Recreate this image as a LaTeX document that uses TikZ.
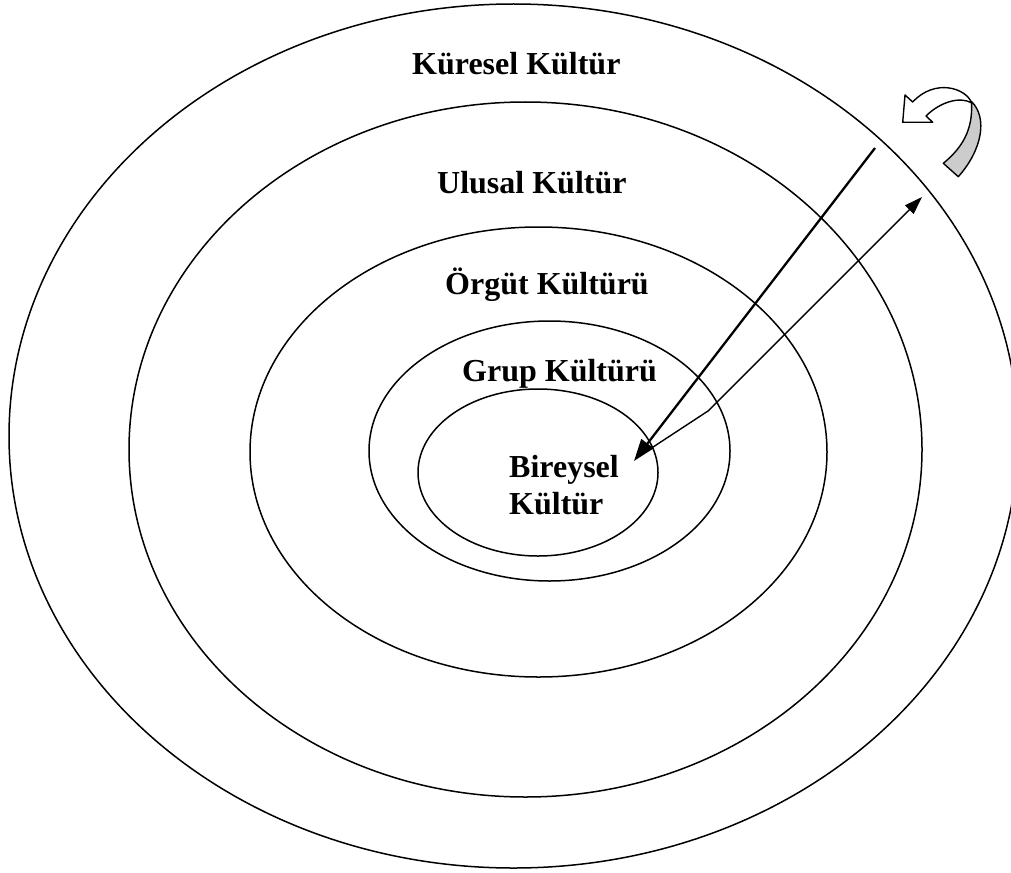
\documentclass[tikz,border=0pt]{standalone}
\usepackage{fontspec}
\setmainfont{Liberation Serif}
\usetikzlibrary{arrows.meta}
\begin{document}
\begin{tikzpicture}[x=1pt, y=-1pt,
  ring/.style={draw=black, line width=1.5pt},
  label/.style={inner sep=0pt, font=\bfseries\fontsize{32}{37}\selectfont},
  link/.style={draw=black, line width=1.4pt},
  bigtip/.style={-{Triangle[length=22pt,width=15pt]}},
  smalltip/.style={-{Triangle[length=18pt,width=12pt]}},
  ribbon/.style={draw=black, line width=1.4pt, line join=round}]
  \useasboundingbox (0,0) rectangle (1011,872);
  \clip (0,0) rectangle (1011,872);

  % concentric culture layers
  \draw[ring] (513.5,436)   ellipse [x radius=504.5pt, y radius=432pt];
  \draw[ring] (525.5,449.5) ellipse [x radius=396.5pt, y radius=347.5pt];
  \draw[ring] (538.5,452) ellipse [x radius=288.5pt, y radius=225pt];
  \draw[ring] (549.5,451) ellipse [x radius=180.5pt, y radius=130pt];
  \draw[ring] (538,472.5) ellipse [x radius=120pt, y radius=83.5pt];

  % layer names
  \node[label, anchor=base west] (kuresel) at (412,75)  {Küresel Kültür};
  \node[label, anchor=base west] (ulusal)  at (437,193) {Ulusal Kültür};
  \node[label, anchor=base west] (orgut)   at (445,294) {Örgüt Kültürü};
  \node[label, anchor=base west] (grup)    at (462,381) {Grup Kültürü};
  \node[label, anchor=north west, align=left] (bireysel) at (509,455) {Bireysel\\Kültür};

  % influence from outside inwards and back outwards
  \coordinate (inStart) at (875,148);
  \coordinate (inEnd)   at (634,461);
  \coordinate (outStart) at (647,451);
  \coordinate (outBend)  at (708,411);
  \coordinate (outEnd)   at (922,197);
  \draw[link, line width=2.3pt, bigtip] (inStart) -- (inEnd);
  \draw[link, smalltip] (outStart) -- (outBend) -- (outEnd);

  % curved block arrow: twisted ribbon, grey underside then white front
  \filldraw[ribbon, fill=black!20]
    (971.5,103) .. controls (973,130) and (962,148) .. (943.3,163.3)
    -- (958.3,176.7)
    .. controls (982,150) and (988,118) .. (971.5,101.5) -- cycle;
  \filldraw[ribbon, fill=white]
    (905,95) -- (902.7,122.3) -- (932.7,122.3) -- (926,116)
    .. controls (940,102) and (960,96) .. (971.7,103)
    .. controls (966,88) and (935,78) .. (912.7,102) -- cycle;
\end{tikzpicture}
\end{document}
